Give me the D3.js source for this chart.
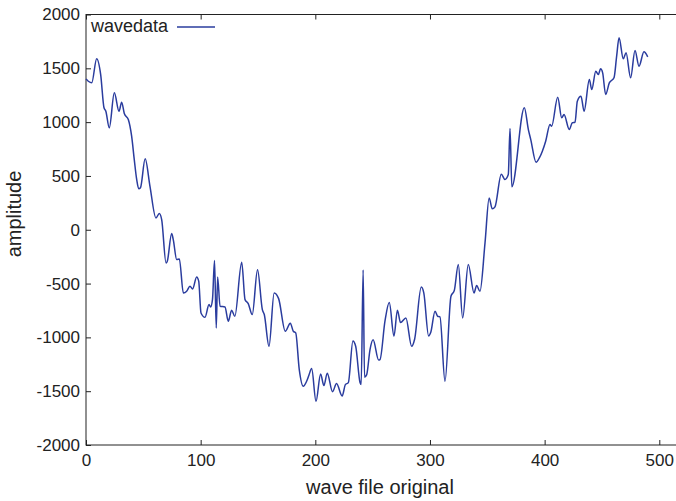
<!DOCTYPE html>
<html lang="en">
<head>
<meta charset="UTF-8">
<script src="https://cdn.jsdelivr.net/npm/d3@7"></script>
<style>
    body { margin: 0; background: #fff; }
    svg { display: block; font-family: "Liberation Sans", Arial, sans-serif; }
    .axis path, .axis line { stroke: #222; }
    .axis text { fill: #222; font-size: 17px; }
</style>
</head>
<body>
<div id="chart"></div>
<script>
    // sample index (x) and amplitude (y)
    const sampleIdx = [0, 2, 5, 9.3, 12.8, 15.7, 17.3, 20.3, 24.7, 28.8, 31.1, 33.4, 36.9, 39.8, 42.1, 44.2, 46, 47.5,
        51.6, 55.8, 61, 63.9, 66, 69.8, 70.9, 74.7, 76.1, 79.1, 81.4, 84.9, 87.8, 90.7, 93, 96.5, 98.3, 100.3, 103.8,
        107.3, 108.7, 110.3, 112.1, 113.6, 114.8, 116.9, 121.2, 124.1, 127, 129.8, 135.8, 138.7, 141.5, 145, 149.6,
        153.8, 155.5, 159.6, 164.1, 168, 173.8, 178.2, 180.8, 182.9, 186, 189.5, 192.4, 194.4, 196.8, 200.6, 204.6,
        207.5, 210.4, 215, 218.5, 223.4, 226.2, 228.8, 232.8, 235.2, 239, 240, 241.7, 242.9, 244.8, 247.7, 250.4,
        255.2, 256.4, 260.8, 264.5, 268.6, 271.6, 274.3, 279, 284, 286.6, 292.4, 294.6, 298.8, 300.7, 304.4, 306.7,
        308.7, 313.1, 318.3, 321.2, 324.7, 328.5, 333.4, 338.4, 340.7, 343.6, 348, 351.6, 354.3, 356.7, 362.2, 365.4,
        368.3, 369.8, 371.4, 382.3, 385.8, 387.9, 392.5, 395.4, 398, 400.9, 404.7, 406.1, 411.4, 414.9, 416.9, 421.5,
        424.1, 426.5, 428.5, 431.7, 434.4, 439, 441.1, 444.6, 446.8, 448.8, 450.6, 453.2, 456.4, 460.5, 462.8, 464.9,
        468.6, 471, 475, 478.8, 482.3, 486.6, 489.9];
    const amplitude = [1400, 1380, 1365, 1590, 1442, 1133, 1101, 947, 1272, 1101, 1185, 1080, 1024, 869, 652, 467, 380, 390,
        659, 404, 110, 150, 95, -308, -292, -35, -91, -277, -271, -587, -571, -525, -550, -438, -478, -773, -813,
        -695, -717, -649, -286, -912, -438, -711, -717, -850, -748, -804, -302, -649, -686, -788, -372,
        -742, -788, -1083, -587, -640, -943, -868, -943, -958, -1299, -1454, -1408, -1352, -1290, -1594, -1340,
        -1448, -1333, -1505, -1429, -1545, -1439, -1420, -1033, -1083, -1420, -1439, -373, -1370, -1346, -1113, -1022,
        -1210, -1206, -845, -677, -988, -747, -862, -819, -1083, -1017, -533, -587, -987, -953, -757, -804,
        -810, -1408, -618, -565, -323, -819, -323, -587, -519, -571, -122, 296, 194, 213, 516, 467,
        513, 940, 399, 1133, 931, 838, 627, 668, 730, 823, 978, 962, 1231, 1040, 1071, 931,
        994, 999, 1195, 1241, 1101, 1396, 1303, 1473, 1442, 1495, 1458, 1257, 1365, 1412, 1613, 1784,
        1588, 1644, 1412, 1665, 1520, 1653, 1607];
    const xTicks = [0, 100, 200, 300, 400, 500];
    const yTicks = [-2000, -1500, -1000, -500, 0, 500, 1000, 1500, 2000];
    const seriesName = "wavedata";

    const width = 676, height = 501;
    const margin = { top: 14.5, left: 86, bottom: 56 };
    const plotRight = 700; // frame runs past the window edge

    const data = sampleIdx.map((x, i) => ({ x: x, y: amplitude[i] }));

    const svg = d3.select("#chart").append("svg")
        .attr("width", width)
        .attr("height", height);

    const x = d3.scaleLinear().domain([0, 500]).range([margin.left, 659.3]);
    const y = d3.scaleLinear().domain([-2000, 2000]).range([height - margin.bottom, margin.top]);
    const plain = d => String(d);

    // frame
    svg.append("rect")
        .attr("x", margin.left)
        .attr("y", margin.top)
        .attr("width", plotRight - margin.left)
        .attr("height", y(-2000) - margin.top)
        .attr("fill", "none")
        .attr("stroke", "#222")
        .attr("stroke-width", 1);

    // axes, ticks pointing inwards
    svg.append("g").attr("class", "axis")
        .attr("transform", `translate(0,${y(-2000)})`)
        .call(d3.axisBottom(x).tickValues(xTicks).tickSize(-5).tickPadding(9).tickFormat(plain))
        .call(g => g.select(".domain").remove());

    svg.append("g").attr("class", "axis")
        .attr("transform", `translate(0,${margin.top})`)
        .call(d3.axisTop(x).tickValues(xTicks).tickSize(-5).tickFormat(""))
        .call(g => g.select(".domain").remove());

    svg.append("g").attr("class", "axis")
        .attr("transform", `translate(${margin.left},0)`)
        .call(d3.axisLeft(y).tickValues(yTicks).tickSize(-5).tickPadding(6).tickFormat(plain))
        .call(g => g.select(".domain").remove());

    // the wave
    const line = d3.line()
        .x(d => x(d.x))
        .y(d => y(d.y))
        .curve(d3.curveMonotoneX);

    svg.append("path")
        .datum(data)
        .attr("fill", "none")
        .attr("stroke", "#2a3c9e")
        .attr("stroke-width", 1.5)
        .attr("stroke-linejoin", "round")
        .attr("d", line);

    // legend
    svg.append("text")
        .attr("x", 91)
        .attr("y", 31.5)
        .attr("font-size", 18)
        .attr("fill", "#222")
        .text(seriesName);
    svg.append("line")
        .attr("x1", 177).attr("x2", 215)
        .attr("y1", 27).attr("y2", 27)
        .attr("stroke", "#2a3c9e")
        .attr("stroke-width", 1.5);

    // axis titles
    svg.append("text")
        .attr("x", 380)
        .attr("y", 494)
        .attr("text-anchor", "middle")
        .attr("font-size", 20)
        .attr("fill", "#222")
        .text("wave file original");

    svg.append("text")
        .attr("transform", "translate(21,214) rotate(-90)")
        .attr("text-anchor", "middle")
        .attr("font-size", 20)
        .attr("fill", "#222")
        .text("amplitude");
</script>
</body>
</html>
